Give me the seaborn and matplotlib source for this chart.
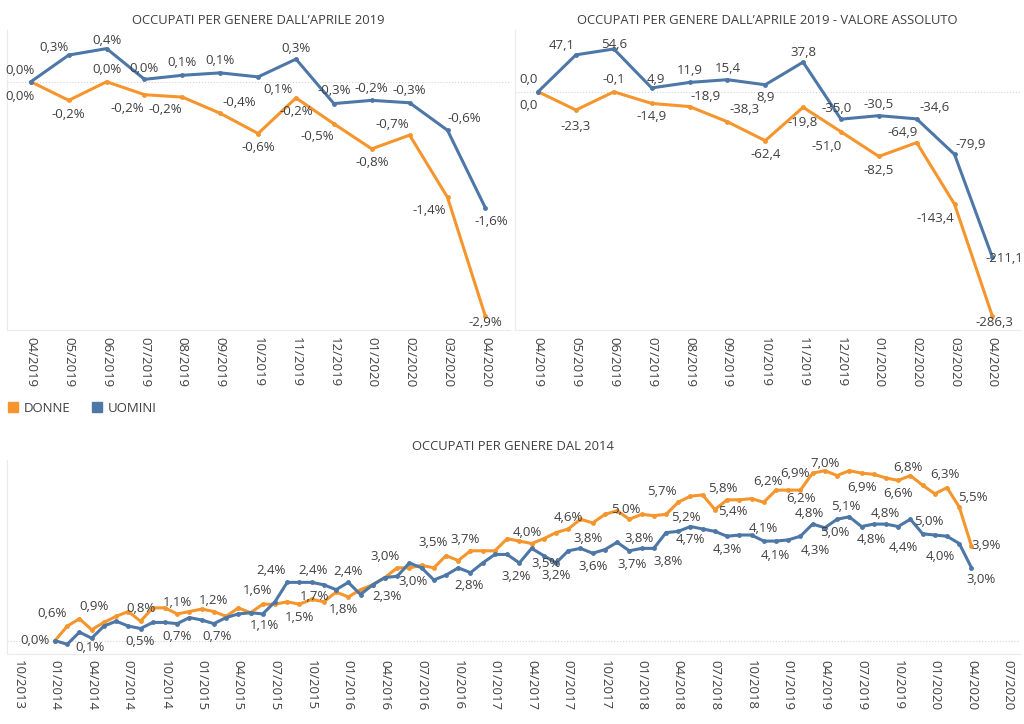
import pandas as pd
import matplotlib
matplotlib.use("Agg")
import matplotlib.pyplot as plt
from matplotlib.lines import Line2D
import seaborn as sns

ORANGE = "#F5952D"
BLUE = "#4D77A7"
TEXT = "#404040"

# --- dati: variazione da aprile 2019 ---
mesi_2019 = ["04/2019", "05/2019", "06/2019", "07/2019", "08/2019", "09/2019", "10/2019",
             "11/2019", "12/2019", "01/2020", "02/2020", "03/2020", "04/2020"]
donne_pct = [0.0, -0.23, 0.0, -0.16, -0.19, -0.39, -0.64, -0.2, -0.52, -0.83, -0.66, -1.43, -2.9]
uomini_pct = [0.0, 0.33, 0.41, 0.03, 0.08, 0.11, 0.06, 0.28, -0.27, -0.23, -0.26, -0.6, -1.56]

# valore assoluto (migliaia)
donne_abs = [0.0, -23.3, -0.1, -14.9, -18.9, -38.3, -62.4, -19.8, -51.0, -82.5, -64.9, -143.4, -286.3]
uomini_abs = [0.0, 47.1, 54.6, 4.9, 11.9, 15.4, 8.9, 37.8, -35.0, -30.5, -34.6, -79.9, -211.1]

# --- dati: variazione da gennaio 2014 (mensile, 01/2014 - 04/2020) ---
donne_2014 = [0.0, 0.6, 0.9, 0.45, 0.75, 1.0, 1.2, 0.8, 1.35, 1.35, 1.1, 1.2, 1.3, 1.2, 1.0, 1.35,
              1.15, 1.5, 1.5, 1.6, 1.5, 1.7, 1.6, 2.0, 1.8, 2.1, 2.3, 2.6, 3.0, 3.0, 3.1, 3.0,
              3.5, 3.3, 3.7, 3.7, 3.7, 4.2, 4.1, 4.0, 4.2, 4.45, 4.6, 5.0, 4.85, 5.2, 5.35, 5.0,
              5.2, 5.15, 5.2, 5.7, 5.95, 6.0, 5.4, 5.8, 5.8, 5.85, 5.7, 6.2, 6.2, 6.2, 6.9, 7.0,
              6.8, 7.0, 6.9, 6.85, 6.7, 6.6, 6.8, 6.4, 6.05, 6.3, 5.5, 3.9]
uomini_2014 = [0.0, -0.15, 0.35, 0.1, 0.6, 0.8, 0.6, 0.5, 0.75, 0.75, 0.7, 0.95, 0.85, 0.7, 0.95, 1.1,
               1.15, 1.1, 1.6, 2.4, 2.4, 2.4, 2.3, 2.1, 2.4, 1.9, 2.3, 2.6, 2.65, 3.2, 3.0, 2.5,
               2.7, 3.0, 2.8, 3.2, 3.55, 3.55, 3.2, 3.8, 3.5, 3.2, 3.7, 3.8, 3.6, 3.75, 4.05, 3.7,
               3.8, 3.8, 4.45, 4.5, 4.7, 4.6, 4.5, 4.3, 4.35, 4.35, 4.1, 4.1, 4.15, 4.3, 4.8, 4.65,
               5.0, 5.1, 4.7, 4.8, 4.8, 4.7, 5.0, 4.4, 4.35, 4.3, 4.0, 3.0]
tick_2014 = [d.strftime("%m/%Y") for d in pd.date_range("2013-10-01", "2020-07-01", freq="QS")]

# posizione etichette (dx, dy in pixel, dy verso il basso)
lab_donne_pct = {0: (-11, 15), 1: (0, 14), 2: (0, -12), 3: (-17, 14), 4: (-17, 12), 5: (19, -11),
                 6: (0, 14), 7: (0, 14), 8: (-17, 13), 9: (0, 14), 10: (-17, -11), 11: (-18, 13),
                 12: (0, 6)}
lab_uomini_pct = {0: (-11, -11), 1: (-15, -8), 2: (0, -8), 3: (0, -11), 4: (0, -13), 5: (0, -12),
                  6: (20, 13), 7: (0, -11), 8: (0, -13), 9: (0, -12), 10: (0, -12), 11: (17, -12),
                  12: (6, 14)}
lab_donne_abs = {0: (-10, 14), 1: (0, 16), 2: (0, -12), 3: (0, 13), 4: (16, -10), 5: (17, -12),
                 6: (0, 14), 7: (0, 15), 8: (-14, 15), 9: (0, 14), 10: (-14, -10), 11: (-19, 14),
                 12: (2, 6)}
lab_uomini_abs = {0: (-10, -12), 1: (-14, -9), 2: (0, -4), 3: (4, -8), 4: (0, -12), 5: (0, -11),
                  6: (0, 13), 7: (0, -10), 8: (-4, -11), 9: (0, -11), 10: (18, -11), 11: (16, -10),
                  12: (12, 1)}
lab_donne_2014 = {0: (-20, 0), 1: (-15, -13), 2: (15, -12), 7: (0, -13), 10: (0, -11), 13: (0, -11),
                  20: (0, 13), 21: (3, -3), 24: (-5, 13), 28: (-12, -11), 32: (-13, -13), 34: (-5, -11),
                  39: (-4, -11), 42: (0, -11), 47: (-4, -10), 50: (20, 3), 51: (-16, -11), 54: (18, 2),
                  55: (-4, -11), 59: (-8, -9), 61: (1, 8), 62: (-18, 0), 63: (0, -7), 66: (0, 14),
                  69: (0, 13), 70: (-2, -8), 73: (-2, -13), 74: (14, -10), 75: (15, 0)}
lab_uomini_2014 = {3: (-2, 9), 7: (0, 13), 10: (0, 13), 13: (3, 13), 17: (2, 12), 18: (-17, -11),
                   19: (-16, -12), 21: (1, -12), 24: (0, -11), 26: (14, 12), 30: (-9, 14), 34: (-1, 13),
                   38: (-3, 14), 40: (2, 8), 41: (0, 13), 43: (8, -10), 44: (0, 13), 47: (3, 14),
                   48: (-2, -10), 49: (14, 13), 52: (0, 13), 55: (0, 13), 58: (0, -13), 59: (-1, 14),
                   61: (15, 14), 62: (-3, -11), 64: (-2, 13), 65: (-3, -10), 67: (-2, 15), 68: (-1, -11),
                   70: (18, 2), 71: (-19, 14), 74: (-19, 13), 75: (10, 12)}

sns.set_theme(style="white")
plt.rcParams["font.family"] = ["Open Sans", "DejaVu Sans"]


def make_df(donne, uomini):
    n = len(donne)
    return pd.DataFrame({
        "i": list(range(n)) * 2,
        "v": list(donne) + list(uomini),
        "genere": ["DONNE"] * n + ["UOMINI"] * n,
    })


def draw(ax, donne, uomini, lab_d, lab_u, fmt):
    df = make_df(donne, uomini)
    ax.axhline(0, ls=":", color="#d5d5d5", lw=0.8, zorder=0)
    sns.lineplot(data=df, x="i", y="v", hue="genere", palette={"DONNE": ORANGE, "UOMINI": BLUE},
                 marker="o", markersize=3.5, markeredgewidth=0, linewidth=2.2, legend=False, ax=ax)
    for vals, labs in [(donne, lab_d), (uomini, lab_u)]:
        for i, (dx, dy) in labs.items():
            ax.annotate(fmt(vals[i]), (i, vals[i]), xytext=(dx, -dy), textcoords="offset pixels",
                        ha="center", va="center", fontsize=9.5, color=TEXT)
    ax.set_xlabel("")
    ax.set_ylabel("")
    ax.set_yticks([])
    ax.tick_params(axis="x", length=0, labelsize=9.5, labelcolor=TEXT)
    for s in ["top", "right"]:
        ax.spines[s].set_visible(False)
    for s in ["left", "bottom"]:
        ax.spines[s].set_color("#ebebeb")
        ax.spines[s].set_linewidth(0.8)


def pct(v):
    return f"{v:.1f}%".replace(".", ",")


def num(v):
    return f"{v:.1f}".replace(".", ",")


fig = plt.figure(figsize=(10.24, 7.24), dpi=100)

ax1 = fig.add_axes([7 / 1024, 1 - 330 / 724, 503 / 1024, 300 / 724])
draw(ax1, donne_pct, uomini_pct, lab_donne_pct, lab_uomini_pct, pct)
ax1.set_xlim(-0.63, 12.65)
ax1.set_ylim(-3.07, 0.64)
ax1.set_xticks(range(len(mesi_2019)))
ax1.set_xticklabels(mesi_2019, rotation=-90)
ax1.tick_params(axis="x", pad=5)

ax2 = fig.add_axes([515 / 1024, 1 - 330 / 724, 505 / 1024, 300 / 724])
draw(ax2, donne_abs, uomini_abs, lab_donne_abs, lab_uomini_abs, num)
ax2.set_xlim(-0.61, 12.73)
ax2.set_ylim(-304, 78.8)
ax2.set_xticks(range(len(mesi_2019)))
ax2.set_xticklabels(mesi_2019, rotation=-90)
ax2.tick_params(axis="x", pad=5)

ax3 = fig.add_axes([7 / 1024, 1 - 654 / 724, 1013 / 1024, 194 / 724])
draw(ax3, donne_2014, uomini_2014, lab_donne_2014, lab_uomini_2014, pct)
ax3.set_xlim(-3.93, 78.97)
ax3.set_ylim(-0.55, 7.44)
ax3.set_xticks(range(-3, 79, 3))
ax3.set_xticklabels(tick_2014, rotation=-90)
ax3.tick_params(axis="x", pad=4)

fig.text(258 / 1024, 1 - 20 / 724, "OCCUPATI PER GENERE DALL’APRILE 2019", ha="center", va="center",
         fontsize=9.4, color=TEXT)
fig.text(767 / 1024, 1 - 20 / 724, "OCCUPATI PER GENERE DALL’APRILE 2019 - VALORE ASSOLUTO",
         ha="center", va="center", fontsize=9.4, color=TEXT)
fig.text(513 / 1024, 1 - 447 / 724, "OCCUPATI PER GENERE DAL 2014", ha="center", va="center",
         fontsize=9.4, color=TEXT)

handles = [Line2D([], [], marker="s", ls="", color=ORANGE, markersize=7, label="DONNE"),
           Line2D([], [], marker="s", ls="", color=BLUE, markersize=7, label="UOMINI")]
fig.legend(handles=handles, loc="center left", bbox_to_anchor=(8 / 1024, 1 - 408 / 724), ncol=2,
           frameon=False, fontsize=9.5, labelcolor=TEXT, handlelength=0.8, handletextpad=0.4,
           columnspacing=1.6, borderpad=0, borderaxespad=0)

fig.savefig("out.png", dpi=100)
